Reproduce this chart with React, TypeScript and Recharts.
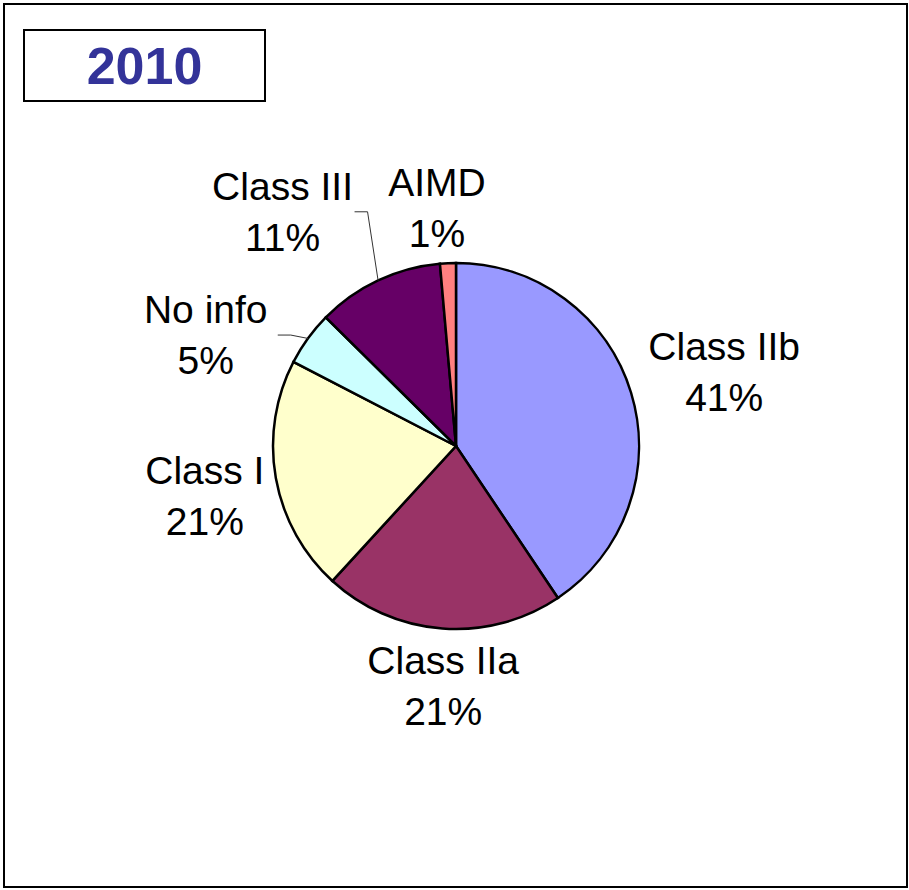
import React from "react";
import { PieChart, Pie, Cell } from "recharts";

// categories, clockwise from 12 o'clock
const categories = ["Class IIb", "Class IIa", "Class I", "No info", "Class III", "AIMD"];
// share of devices (%)
const shares = [40.6, 21.2, 20.8, 4.8, 11.2, 1.4];
const colors = ["#9999FF", "#993366", "#FFFFCC", "#CCFFFF", "#660066", "#FF8080"];

const title = "2010";

const FONT = "'Liberation Sans', Arial, sans-serif";
const LABEL_RADIUS = 250;
const LINE_GAP = 51;

// label nudges from the default spot (Excel labels were dragged by hand)
const labelNudge: Record<string, [number, number]> = {
  "Class IIb": [29, -1],
  "Class IIa": [6, -9],
  "Class I": [-5, 6],
  "No info": [-48, 36],
  "Class III": [-67, -8],
  AIMD: [-8, 12],
};
const withLeader = ["No info", "Class III"];

const data = categories.map((name, i) => ({ name, value: shares[i] }));

const RADIAN = Math.PI / 180;

const renderLabel = (props: any) => {
  const { cx, cy, midAngle, outerRadius, index } = props;
  const name = categories[index];
  const [dx, dy] = labelNudge[name] || [0, 0];
  const x = cx + LABEL_RADIUS * Math.cos(-midAngle * RADIAN) + dx;
  const y = cy + LABEL_RADIUS * Math.sin(-midAngle * RADIAN) + dy;
  const ex = cx + outerRadius * Math.cos(-midAngle * RADIAN);
  const ey = cy + outerRadius * Math.sin(-midAngle * RADIAN);
  const pct = `${Math.round(shares[index])}%`;
  return (
    <g key={`lbl-${index}`}>
      {withLeader.includes(name) && (
        <polyline
          points={`${x + 72},${y} ${x + 85},${y} ${ex},${ey}`}
          fill="none"
          stroke="#333"
          strokeWidth={1}
        />
      )}
      <text
        x={x}
        y={y - LINE_GAP / 2}
        textAnchor="middle"
        dominantBaseline="central"
        fontFamily={FONT}
        fontSize={39}
        fill="#000"
      >
        {name}
      </text>
      <text
        x={x}
        y={y + LINE_GAP / 2}
        textAnchor="middle"
        dominantBaseline="central"
        fontFamily={FONT}
        fontSize={39}
        fill="#000"
      >
        {pct}
      </text>
    </g>
  );
};

export default function App() {
  return (
    <div
      style={{
        position: "absolute",
        left: 0,
        top: 0,
        width: 909,
        height: 890,
        background: "#fff",
      }}
    >
      <div
        style={{
          position: "absolute",
          left: 3,
          top: 3,
          width: 905,
          height: 885,
          border: "2px solid #000",
          boxSizing: "border-box",
        }}
      />
      <div
        style={{
          position: "absolute",
          left: 23,
          top: 29,
          width: 243,
          height: 73,
          border: "2px solid #000",
          boxSizing: "border-box",
          display: "flex",
          alignItems: "center",
          justifyContent: "center",
          fontFamily: FONT,
          fontWeight: 700,
          fontSize: 52,
          color: "#333399",
        }}
      >
        {title}
      </div>
      <div style={{ position: "absolute", left: 0, top: 0 }}>
        <PieChart width={909} height={890} margin={{ top: 0, right: 0, bottom: 0, left: 0 }}>
          <Pie
            data={data}
            dataKey="value"
            nameKey="name"
            cx={456}
            cy={446}
            outerRadius={183}
            startAngle={90}
            endAngle={-270}
            stroke="#000"
            strokeWidth={2.5}
            label={renderLabel}
            labelLine={false}
            isAnimationActive={false}
          >
            {data.map((d, i) => (
              <Cell key={d.name} fill={colors[i]} />
            ))}
          </Pie>
        </PieChart>
      </div>
    </div>
  );
}
